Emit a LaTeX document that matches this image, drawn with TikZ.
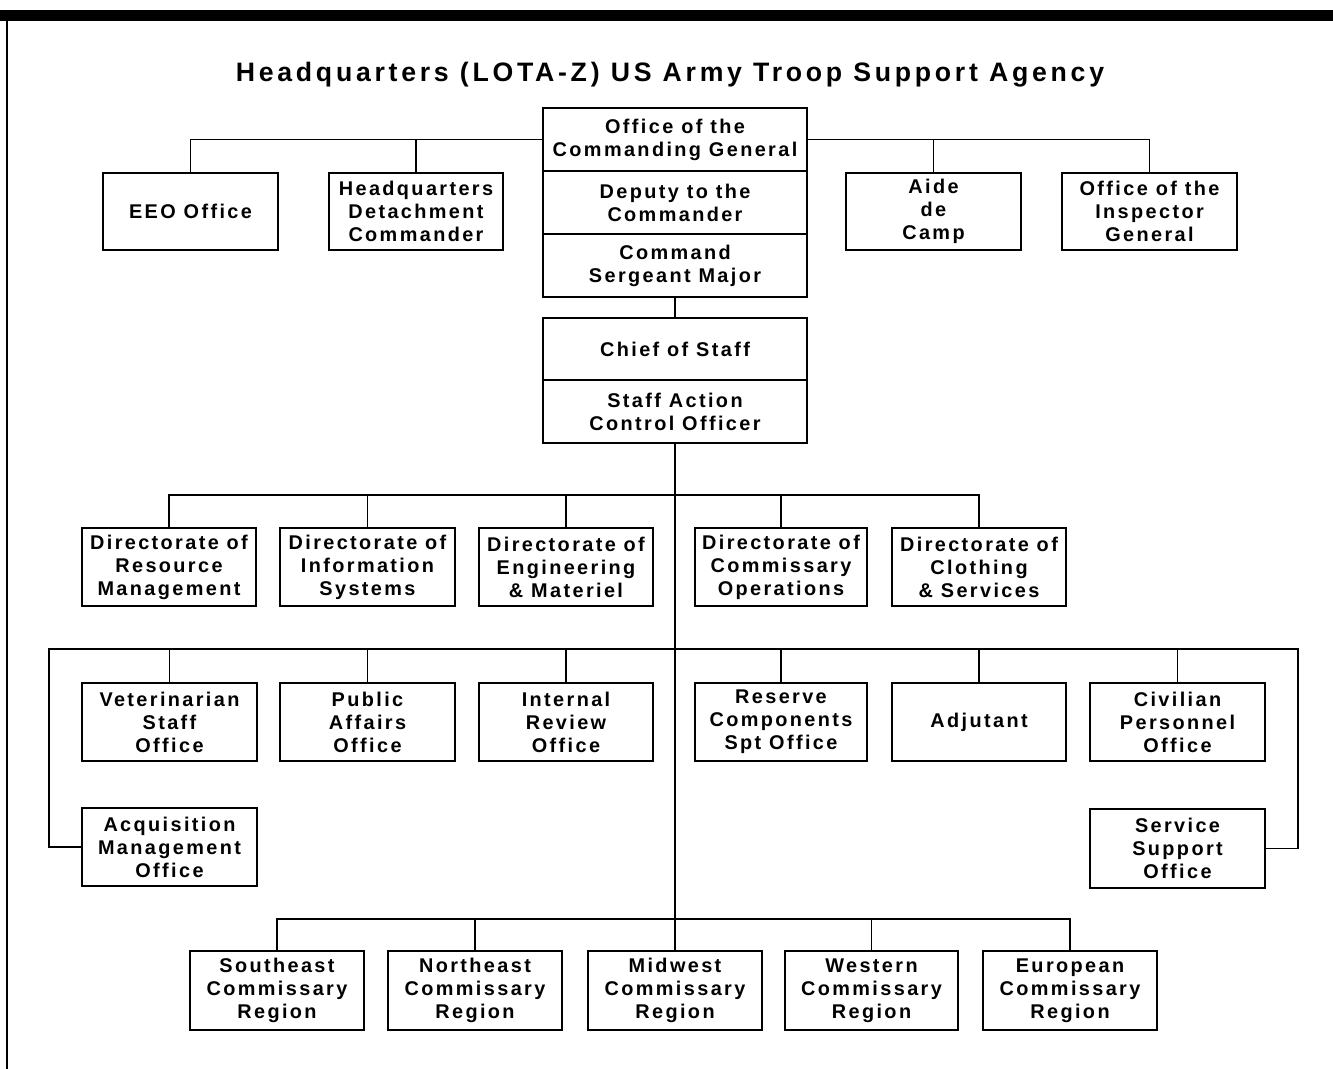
\documentclass[tikz,border=0pt]{standalone}
\usepackage{fontspec}
\setmainfont{Liberation Sans}
\newfontfamily\bxf{Liberation Sans}[LetterSpace=12]
\newfontfamily\ttlf{Liberation Sans}[LetterSpace=14]
\newcommand\boxat[6]{\node[ob, minimum width={(#4-#2)*0.75pt}, minimum height={(#5-#3)*0.75pt}] (#1) at ({(#2+#4)/2},{(#3+#5)/2}) {#6};}
\begin{document}
\begin{tikzpicture}[x=0.75pt,y=-0.75pt,
  ob/.style={draw, line width=1.5pt, inner sep=0pt, outer sep=0pt, align=center,
    font=\bxf\bfseries\fontsize{14.9}{17.25}\selectfont},
  cn/.style={line width=1.4pt}]
\useasboundingbox (0,0) rectangle (1333,1069);
% frame
\fill (0,10) rectangle (1333,21);
\draw[line width=1.5pt] (7,21) -- (7,1069);
% title
\node[font=\ttlf\bfseries\fontsize{20}{23}\selectfont] (title) at (670,75) {Headquarters (LOTA-Z) US Army Troop Support Agency};
% command stack
\boxat{cg}{543}{108}{807}{171}{Office of the\\Commanding General}
\boxat{dep}{543}{171}{807}{234}{Deputy to the\\Commander}
\boxat{csm}{543}{234}{807}{297}{Command\\Sergeant Major}
\boxat{cos}{543}{318}{807}{380}{Chief of Staff}
\boxat{saco}{543}{380}{807}{443}{Staff Action\\Control Officer}
% top staff
\boxat{eeo}{103}{173}{278}{250}{EEO Office}
\boxat{hq}{329}{173}{503}{250}{Headquarters\\Detachment\\Commander}
\boxat{aide}{846}{173}{1021}{250}{Aide\\de\\Camp}
\boxat{ig}{1062}{173}{1237}{250}{Office of the\\Inspector\\General}
% directorates
\boxat{drm}{82}{528}{256}{606}{Directorate of\\Resource\\Management}
\boxat{dis}{280}{528}{455}{606}{Directorate of\\Information\\Systems}
\boxat{dem}{479}{528}{653}{606}{Directorate of\\Engineering\\\& Materiel}
\boxat{dco}{695}{528}{867}{606}{Directorate of\\Commissary\\Operations}
\boxat{dcs}{892}{528}{1066}{606}{Directorate of\\Clothing\\\& Services}
% special staff
\boxat{vet}{82}{683}{257}{761}{Veterinarian\\Staff\\Office}
\boxat{pa}{280}{683}{455}{761}{Public\\Affairs\\Office}
\boxat{ir}{479}{683}{653}{761}{Internal\\Review\\Office}
\boxat{rc}{695}{683}{867}{761}{Reserve\\Components\\Spt Office}
\boxat{adj}{892}{683}{1066}{761}{Adjutant}
\boxat{cp}{1090}{683}{1265}{761}{Civilian\\Personnel\\Office}
\boxat{acq}{82}{808}{257}{886}{Acquisition\\Management\\Office}
\boxat{ssv}{1090}{809}{1265}{888}{Service\\Support\\Office}
% regions
\boxat{se}{190}{951}{364}{1030}{Southeast\\Commissary\\Region}
\boxat{ne}{388}{951}{562}{1030}{Northeast\\Commissary\\Region}
\boxat{mw}{588}{951}{762}{1030}{Midwest\\Commissary\\Region}
\boxat{we}{785}{951}{958}{1030}{Western\\Commissary\\Region}
\boxat{eu}{983}{951}{1157}{1030}{European\\Commissary\\Region}
% bus coordinates
\coordinate (bus1) at (675,495);
\coordinate (bus2) at (675,649);
\coordinate (bus3) at (675,919);
\coordinate (lb) at (49,649);
\coordinate (rb) at (1298,649);
% connectors
\draw[cn] (eeo.north) |- (cg.west);
\draw[cn] (hq.north) -- (hq.north |- cg.west);
\draw[cn] (cg.east) -| (ig.north);
\draw[cn] (aide.north) -- (aide.north |- cg.east);
\draw[cn] (csm.south) -- (cos.north);
\draw[cn] (saco.south) -- (bus3);
\draw[cn] (drm.north) |- (bus1) -| (dcs.north);
\foreach \n in {dis,dem,dco} \draw[cn] (\n.north) -- (\n.north |- bus1);
\draw[cn] (acq.west) -| (lb) -- (rb) |- (ssv.east);
\foreach \n in {vet,pa,ir,rc,adj,cp} \draw[cn] (\n.north) -- (\n.north |- lb);
\draw[cn] (se.north) |- (bus3) -| (eu.north);
\foreach \n in {ne,mw,we} \draw[cn] (\n.north) -- (\n.north |- bus3);
\end{tikzpicture}
\end{document}
